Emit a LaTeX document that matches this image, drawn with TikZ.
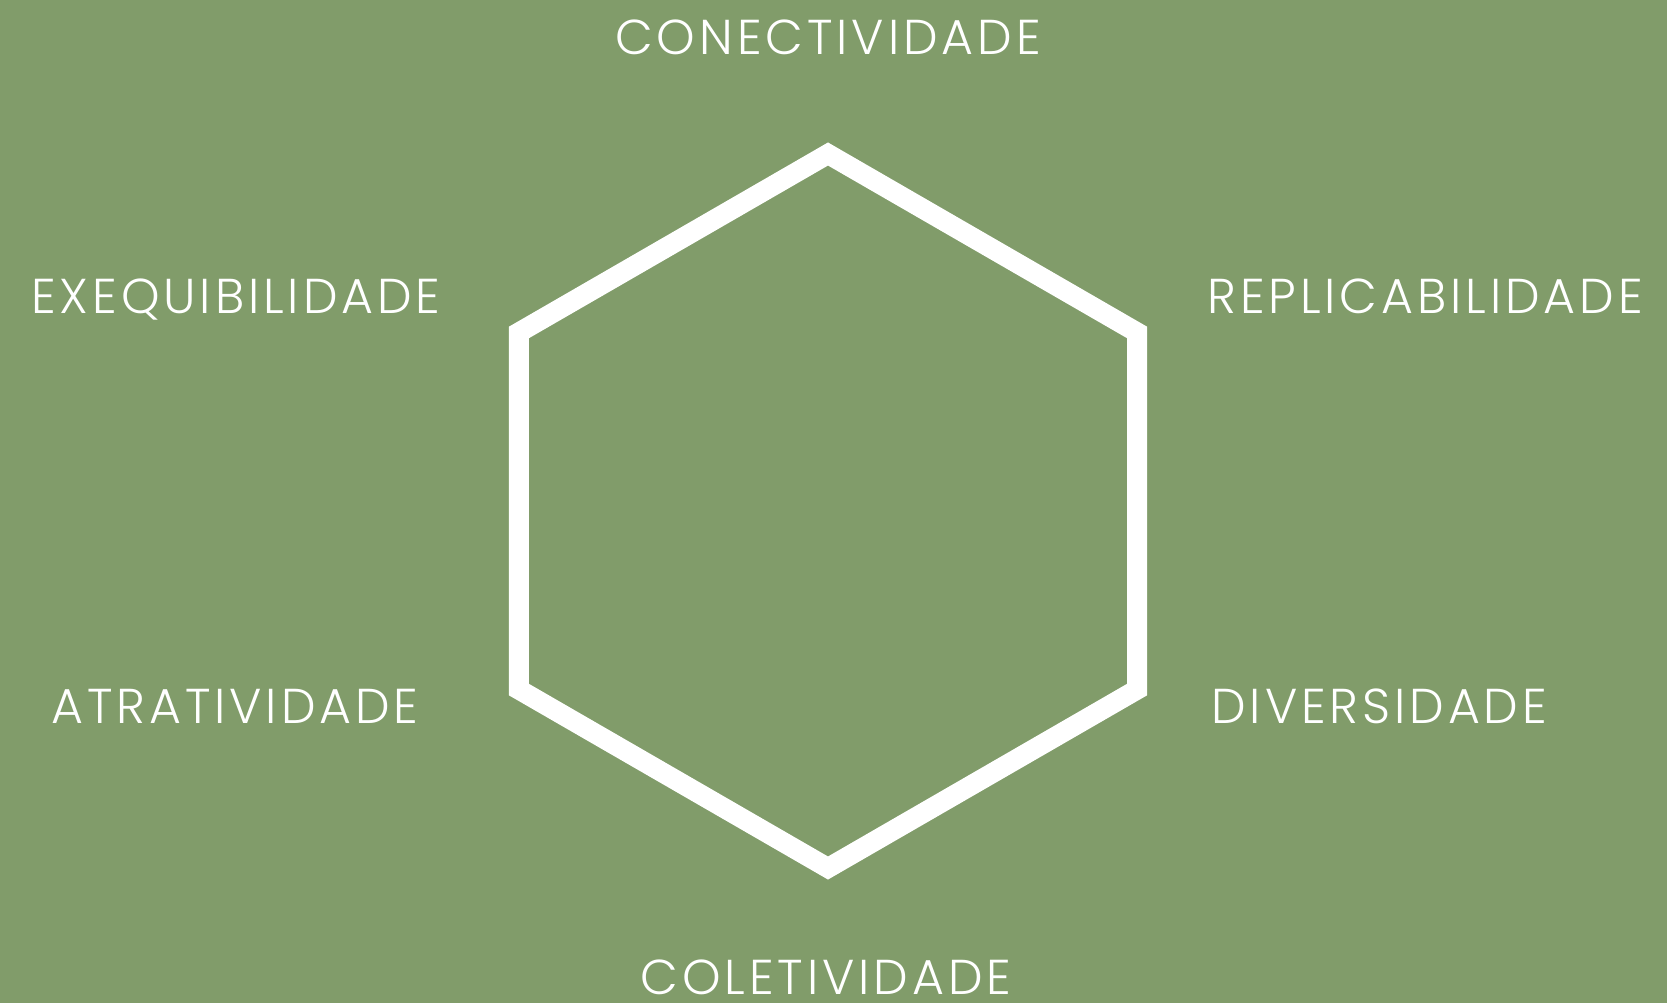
\documentclass[tikz,border=0pt]{standalone}
\usepackage{fontspec}
\setmainfont{Poppins}[UprightFont=* Light,LetterSpace=8]
\usepackage{tikz}
\usetikzlibrary{calc}
\definecolor{sagegreen}{RGB}{129,156,106}
\tikzset{
  label/.style={text=white,font=\fontsize{24.5pt}{28pt}\selectfont,inner sep=0pt},
  hexline/.style={draw=white,line width=10pt,line join=miter}
}
\begin{document}
\begin{tikzpicture}[x=0.5pt,y=-0.5pt]
\fill[sagegreen] (0,0) rectangle (1667,1003);
\useasboundingbox (0,0) rectangle (1667,1003);
% hexagon corners
\coordinate (hexc) at (828,511);
\foreach \i/\a in {1/90,2/30,3/-30,4/-90,5/-150,6/150}
  \coordinate (v\i) at ($(hexc)+({357*cos(\a)},{-357*sin(\a)})$);
\draw[hexline] (v1)--(v2)--(v3)--(v4)--(v5)--(v6)--cycle;
% labels
\node[label,anchor=base] (conect) at (828,54) {CONECTIVIDADE};
\node[label,anchor=base] (exeq) at (236,313) {EXEQUIBILIDADE};
\node[label,anchor=base west] (replic) at (1207,313) {REPLICABILIDADE};
\node[label,anchor=base] (atrat) at (235,723) {ATRATIVIDADE};
\node[label,anchor=base west] (divers) at (1211,723) {DIVERSIDADE};
\node[label,anchor=base,text depth=0pt] (colet) at (826,994) {COLETIVIDADE};
\end{tikzpicture}
\end{document}
